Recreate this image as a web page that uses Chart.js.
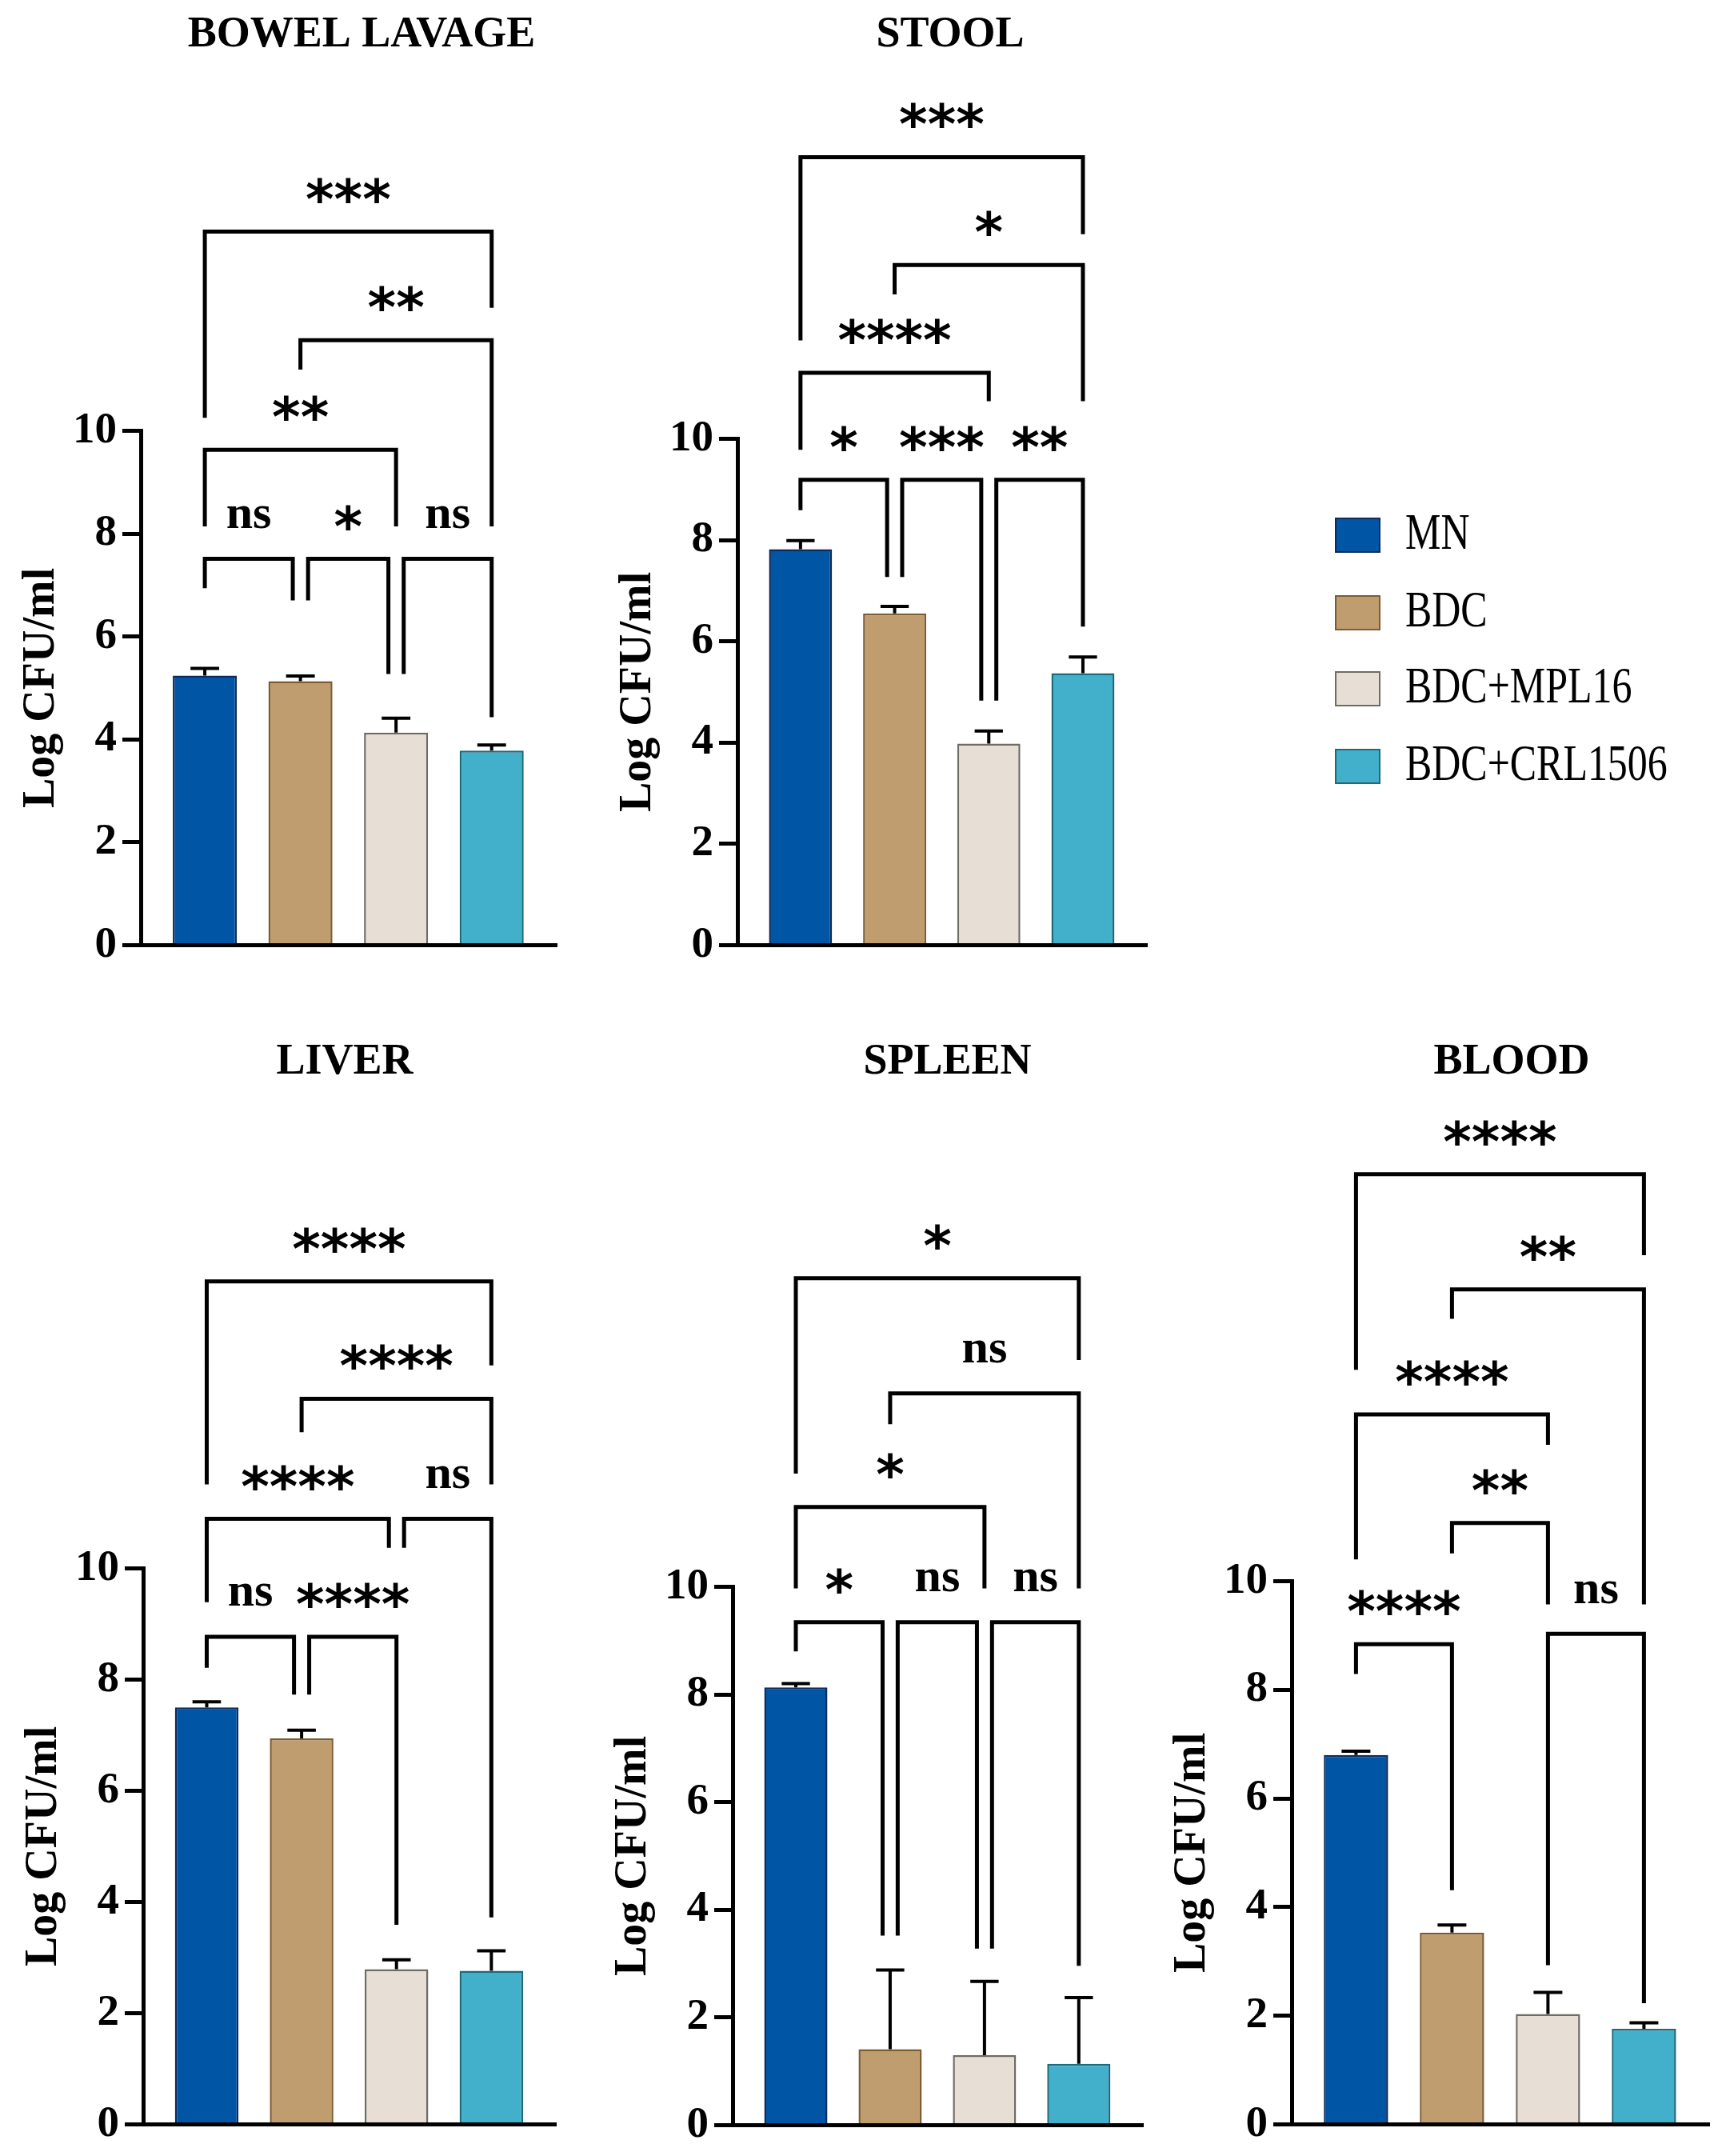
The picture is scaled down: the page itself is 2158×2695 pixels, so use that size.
<!DOCTYPE html>
<html lang="en">
<head>
  <meta charset="UTF-8">
  <title>Log CFU/ml by organ</title>
  <script src="https://cdn.jsdelivr.net/npm/chart.js"></script>
  <style>
    html, body { margin: 0; padding: 0; background: #fff; }
    body { width: 2158px; height: 2695px; position: relative; overflow: hidden; }
    .panel { position: absolute; }
    .legend { position: absolute; left: 1669px; top: 0; font-family: "Liberation Serif", "Times New Roman", serif; }
    .legend .box { position: absolute; left: 0; width: 53px; height: 40px; border: 2px solid; }
    .legend .label { position: absolute; left: 88px; font-size: 64px; line-height: 1; white-space: nowrap;
      transform: scaleX(0.78); transform-origin: left top; color: #000; }
  </style>
</head>
<body>
  <div class="legend" id="legend"></div>

  <script>
    // groups and y ticks shared by every panel
    const groups = ['MN', 'BDC', 'BDC+MPL16', 'BDC+CRL1506'];
    const yTicks = [0, 2, 4, 6, 8, 10];

    // mean and SEM (upper bar only)
    const bowelMean = [5.24, 5.13, 4.13, 3.78];
    const bowelSem = [0.14, 0.10, 0.28, 0.11];
    const stoolMean = [7.82, 6.55, 3.98, 5.37];
    const stoolSem = [0.17, 0.14, 0.25, 0.32];
    const liverMean = [7.50, 6.94, 2.79, 2.76];
    const liverSem = [0.10, 0.15, 0.17, 0.36];
    const spleenMean = [8.13, 1.41, 1.30, 1.14];
    const spleenSem = [0.07, 1.47, 1.37, 1.23];
    const bloodMean = [6.80, 3.53, 2.03, 1.76];
    const bloodSem = [0.07, 0.14, 0.40, 0.11];

    // comparisons: [groupA, groupB, bracket level, leg end A, leg end B, label]
    const bowelSig = [
      [0, 1, 7.51, 6.94, 6.70, 'ns'],
      [1, 2, 7.51, 6.70, 5.27, '*'],
      [2, 3, 7.51, 5.27, 4.43, 'ns'],
      [0, 2, 9.63, 8.14, 8.14, '**'],
      [1, 3, 11.76, 11.19, 8.14, '**'],
      [0, 3, 13.87, 10.25, 12.39, '***']
    ];
    const stoolSig = [
      [0, 1, 9.19, 8.59, 7.27, '*'],
      [1, 2, 9.19, 7.27, 4.83, '***'],
      [2, 3, 9.19, 4.83, 6.29, '**'],
      [0, 2, 11.30, 9.78, 10.74, '****'],
      [1, 3, 13.43, 12.85, 10.74, '*'],
      [0, 3, 15.56, 11.94, 14.04, '***']
    ];
    const liverSig = [
      [0, 1, 8.77, 8.21, 7.73, 'ns'],
      [1, 2, 8.77, 7.73, 3.59, '****'],
      [0, 2, 10.89, 9.39, 10.37, '****'],
      [2, 3, 10.89, 10.37, 3.72, 'ns'],
      [1, 3, 13.05, 12.45, 11.51, '****'],
      [0, 3, 15.16, 11.51, 13.65, '****']
    ];
    const spleenSig = [
      [0, 1, 9.34, 8.80, 3.52, '*'],
      [1, 2, 9.34, 3.52, 3.28, 'ns'],
      [2, 3, 9.34, 3.28, 2.96, 'ns'],
      [0, 2, 11.48, 9.97, 9.97, '*'],
      [1, 3, 13.59, 13.02, 9.97, 'ns'],
      [0, 3, 15.73, 12.10, 14.21, '*']
    ];
    const bloodSig = [
      [0, 1, 8.84, 8.29, 4.31, '****'],
      [2, 3, 9.03, 2.93, 2.23, 'ns'],
      [1, 2, 11.07, 10.51, 9.57, '**'],
      [0, 2, 13.07, 10.40, 12.51, '****'],
      [1, 3, 15.37, 14.83, 9.57, '**'],
      [0, 3, 17.49, 13.89, 16.00, '****']
    ];

    const fills = ['#0055A5', '#C09D6F', '#E7DFD5', '#43B0CB'];
    const edges = ['#0B2C5E', '#7C5C33', '#6F6B66', '#1C6A7A'];

    Chart.defaults.font.family = '"Liberation Serif", "Times New Roman", serif';
    Chart.defaults.color = '#000';

    const AXIS_W = 157;
    const X_AXIS_H = 10;
    const PAD_B = 40;
    const TITLE_SIZE = 54;
    const LEG_SHIFT = 0.08;

    // where each plot area sits on the page (pixels); dx nudges the title
    const panels = [
      { title: 'BOWEL LAVAGE', mean: bowelMean, sem: bowelSem, sig: bowelSig, L: 176, R: 696, T: 538, B: 1181, titleY: 44, dx: 16 },
      { title: 'STOOL', mean: stoolMean, sem: stoolSem, sig: stoolSig, L: 922, R: 1434, T: 548, B: 1181, titleY: 44, dx: 10 },
      { title: 'LIVER', mean: liverMean, sem: liverSem, sig: liverSig, L: 179, R: 695, T: 1960, B: 2655, titleY: 1328, dx: -6 },
      { title: 'SPLEEN', mean: spleenMean, sem: spleenSem, sig: spleenSig, L: 916, R: 1429, T: 1983, B: 2656, titleY: 1328, dx: 12 },
      { title: 'BLOOD', mean: bloodMean, sem: bloodSem, sig: bloodSig, L: 1615, R: 2137, T: 1976, B: 2655, titleY: 1328, dx: 14 }
    ];

    function annotator(p) {
      return {
        id: 'annotate',
        afterDatasetsDraw(chart) {
          const { ctx, scales: { x, y } } = chart;
          const hw = x.getPixelForValue(0.15) - x.getPixelForValue(0);
          ctx.save();
          ctx.strokeStyle = '#000';
          ctx.lineWidth = 4;
          p.sem.forEach((e, i) => {
            const cx = x.getPixelForValue(i);
            const top = y.getPixelForValue(p.mean[i]);
            const cap = y.getPixelForValue(p.mean[i] + e);
            ctx.beginPath();
            ctx.moveTo(cx, top);
            ctx.lineTo(cx, cap);
            ctx.moveTo(cx - hw, cap);
            ctx.lineTo(cx + hw, cap);
            ctx.stroke();
          });
          ctx.restore();
        },
        afterDraw(chart) {
          const { ctx, scales: { x, y } } = chart;
          ctx.save();
          ctx.strokeStyle = '#000';
          ctx.fillStyle = '#000';
          ctx.lineWidth = 5;
          ctx.lineJoin = 'miter';
          p.sig.forEach(([a, b, level, endA, endB, label]) => {
            // pull legs apart where two brackets on one level meet at a bar
            const sameLevel = p.sig.filter(s => Math.abs(s[2] - level) < 0.01);
            const xa = x.getPixelForValue(a + (sameLevel.some(s => s[1] === a) ? LEG_SHIFT : 0));
            const xb = x.getPixelForValue(b - (sameLevel.some(s => s[0] === b) ? LEG_SHIFT : 0));
            const yl = y.getPixelForValue(level);
            ctx.beginPath();
            ctx.moveTo(xa, y.getPixelForValue(endA));
            ctx.lineTo(xa, yl);
            ctx.lineTo(xb, yl);
            ctx.lineTo(xb, y.getPixelForValue(endB));
            ctx.stroke();

            ctx.font = label === 'ns' ? 'bold 60px "Liberation Serif"' : 'bold 68px "DejaVu Sans"';
            ctx.textAlign = 'center';
            ctx.textBaseline = 'alphabetic';
            const m = ctx.measureText(label);
            const cy = yl - 52;
            ctx.fillText(label, (xa + xb) / 2, cy + (m.actualBoundingBoxAscent - m.actualBoundingBoxDescent) / 2);
          });
          ctx.restore();
        }
      };
    }

    panels.forEach(p => {
      // an empty right axis balances the left one so the title centres where it should
      const rightW = AXIS_W + 2 * p.dx;
      const left = p.L - AXIS_W;
      const top = p.titleY - TITLE_SIZE * 0.6;
      const width = AXIS_W + (p.R - p.L) + rightW;
      const height = (p.B - top) + X_AXIS_H + PAD_B;

      const div = document.createElement('div');
      div.className = 'panel';
      div.style.left = left + 'px';
      div.style.top = top + 'px';
      div.style.width = width + 'px';
      div.style.height = height + 'px';
      const canvas = document.createElement('canvas');
      div.appendChild(canvas);
      document.body.appendChild(div);

      new Chart(canvas, {
        type: 'bar',
        data: {
          datasets: [{
            label: p.title,
            data: p.mean.map((v, i) => ({ x: i, y: v })),
            backgroundColor: fills,
            borderColor: edges,
            borderWidth: 2.5,
            barPercentage: 0.67,
            categoryPercentage: 1
          }]
        },
        options: {
          responsive: true,
          maintainAspectRatio: false,
          animation: false,
          devicePixelRatio: 1,
          layout: { padding: { left: 0, right: 0, top: 0, bottom: PAD_B } },
          plugins: {
            legend: { display: false },
            tooltip: { enabled: false },
            title: {
              display: true,
              text: p.title,
              fullSize: true,
              color: '#000',
              font: { size: TITLE_SIZE, weight: 'bold', lineHeight: 1.2 },
              padding: { top: 0, bottom: p.T - p.titleY - TITLE_SIZE * 0.6 }
            }
          },
          scales: {
            x: {
              type: 'linear',
              offset: false,
              min: -0.67,
              max: 3.68,
              ticks: { display: false, stepSize: 1, includeBounds: false },
              grid: { display: false, offset: false },
              border: { display: true, width: 5, color: '#000', z: 1 },
              afterFit: s => { s.height = X_AXIS_H; }
            },
            y: {
              min: 0,
              max: 10,
              afterBuildTicks: s => { s.ticks = yTicks.map(v => ({ value: v })); },
              ticks: { color: '#000', font: { size: 55, weight: 'bold' }, padding: 7 },
              grid: { drawOnChartArea: false, drawTicks: true, tickLength: 23, tickWidth: 5, color: '#000' },
              border: { display: true, width: 5, color: '#000', z: 1 },
              title: { display: true, text: 'Log CFU/ml', color: '#000', font: { size: 56, weight: 'bold' }, padding: 0 },
              afterFit: s => { s.width = AXIS_W; }
            },
            spacer: {
              type: 'linear',
              position: 'right',
              display: true,
              ticks: { display: false },
              grid: { display: false },
              border: { display: false },
              afterFit: s => { s.width = rightW; }
            }
          }
        },
        plugins: [annotator(p)]
      });
    });

    // legend at the right of the top row
    const legendTops = [647, 744, 839, 936];
    const legend = document.getElementById('legend');
    groups.forEach((g, i) => {
      const box = document.createElement('div');
      box.className = 'box';
      box.style.top = legendTops[i] + 'px';
      box.style.background = fills[i];
      box.style.borderColor = edges[i];
      legend.appendChild(box);
      const label = document.createElement('div');
      label.className = 'label';
      label.style.top = (legendTops[i] - 14) + 'px';
      label.textContent = g;
      legend.appendChild(label);
    });
  </script>
</body>
</html>
